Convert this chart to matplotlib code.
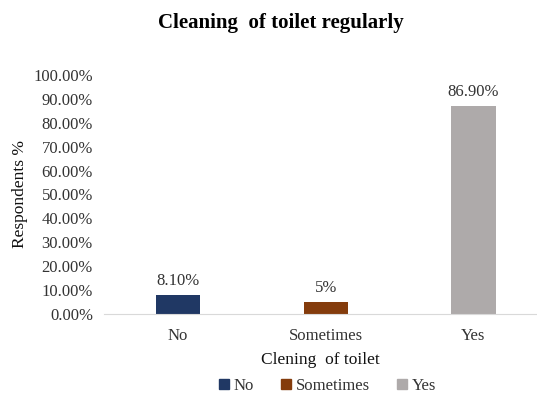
import matplotlib.pyplot as plt
from matplotlib.patches import Patch

# survey answers and share of respondents (%)
categories = ["No", "Sometimes", "Yes"]
values = [8.10, 5.0, 86.90]
value_labels = ["8.10%", "5%", "86.90%"]
colors = ["#203864", "#843C0C", "#AEAAAA"]
y_ticks = list(range(0, 101, 10))

plt.rcParams['font.family'] = ['Liberation Serif', 'DejaVu Serif']
txt = '#333333'

fig = plt.figure(figsize=(5.37, 3.94), dpi=100)
ax = fig.add_axes([104 / 537, 80 / 394, 433 / 537, 239 / 394])

x = list(range(len(categories)))
bars = ax.bar(x, values, width=0.30, color=colors, zorder=2)

for bar, lab in zip(bars, value_labels):
    ax.text(bar.get_x() + bar.get_width() / 2, bar.get_height() + 2.5, lab,
            ha='center', va='bottom', fontsize=12, color=txt)

ax.set_xlim(-0.5, 2.43)
ax.set_ylim(0, 100)
ax.set_xticks(x)
ax.set_xticklabels(categories, fontsize=12, color=txt)
ax.set_yticks(y_ticks)
ax.set_yticklabels([f"{t:.2f}%" for t in y_ticks], fontsize=12, color=txt)
ax.tick_params(axis='both', length=0)
ax.tick_params(axis='x', pad=10)
ax.tick_params(axis='y', pad=8)

for side in ['top', 'right', 'left']:
    ax.spines[side].set_visible(False)
ax.spines['bottom'].set_color('#D9D9D9')

ax.set_xlabel("Clening  of toilet", fontsize=12.5, labelpad=6, color='#111111')
ax.set_ylabel("Respondents %", fontsize=12.5, labelpad=4, color='#111111')

fig.text(281 / 537, 1 - 23 / 394, "Cleaning  of toilet regularly", ha='center', va='center',
         fontsize=15, fontweight='bold')

handles = [Patch(color=c, label=l) for c, l in zip(colors, categories)]
fig.legend(handles=handles, loc='center', bbox_to_anchor=(0.61, 1 - 386 / 394),
           ncol=3, frameon=False, fontsize=12, handlelength=0.6, handleheight=0.6,
           handletextpad=0.3, columnspacing=1.6, labelcolor=txt)

fig.savefig("out.png", dpi=100)
